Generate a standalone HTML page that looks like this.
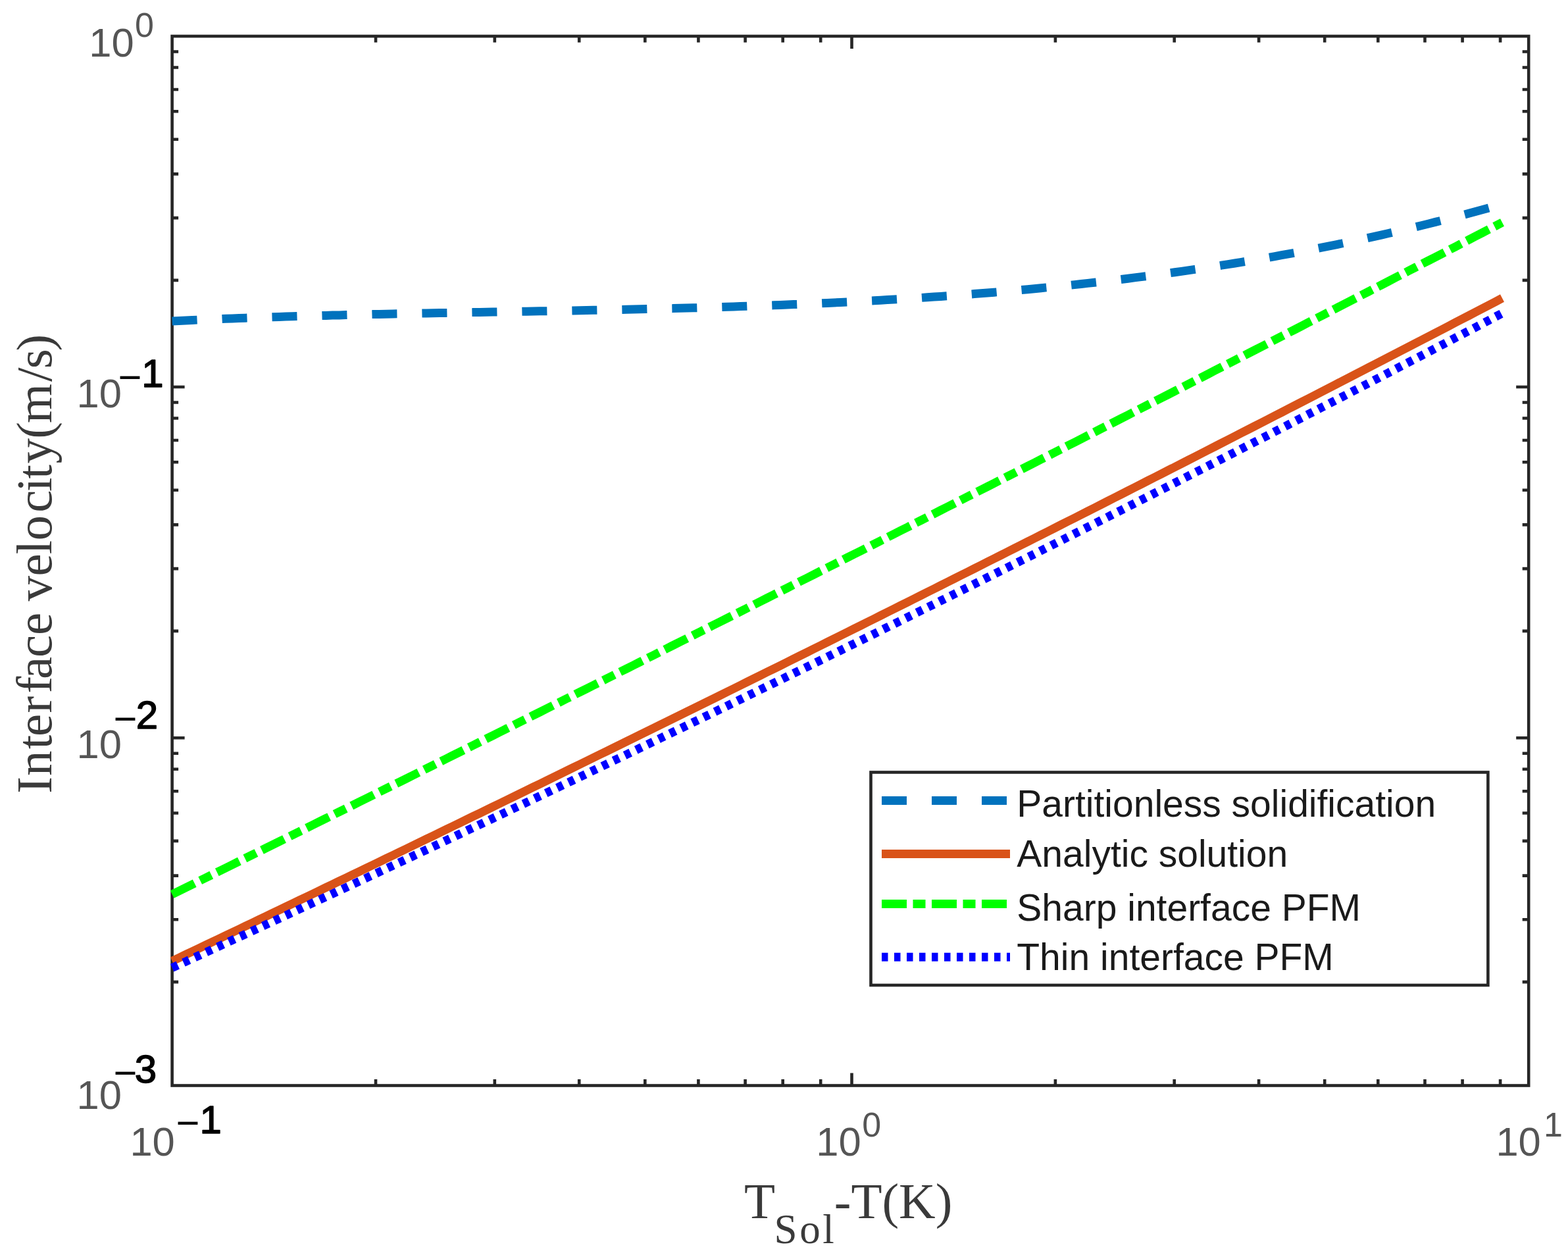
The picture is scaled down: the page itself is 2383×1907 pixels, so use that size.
<!DOCTYPE html>
<html><head><meta charset="utf-8"><title>Interface velocity plot</title>
<style>html,body{margin:0;padding:0;background:#fff;}svg{display:block;}</style>
</head><body>
<svg width="2383" height="1907" viewBox="0 0 2383 1907"><rect x="261.6" y="55.0" width="2061.6" height="1594.5" fill="none" stroke="#262626" stroke-width="4.6"/>
<path d="M571.0 1649.5v-9.5M571.0 55.0v9.5M751.8 1649.5v-9.5M751.8 55.0v9.5M880.2 1649.5v-9.5M880.2 55.0v9.5M980.3 1649.5v-9.5M980.3 55.0v9.5M1061.4 1649.5v-9.5M1061.4 55.0v9.5M1132.6 1649.5v-9.5M1132.6 55.0v9.5M1189.7 1649.5v-9.5M1189.7 55.0v9.5M1247.2 1649.5v-9.5M1247.2 55.0v9.5M1294.5 1649.5v-19.0M1294.5 55.0v19.0M1603.9 1649.5v-9.5M1603.9 55.0v9.5M1784.7 1649.5v-9.5M1784.7 55.0v9.5M1913.1 1649.5v-9.5M1913.1 55.0v9.5M2013.2 1649.5v-9.5M2013.2 55.0v9.5M2094.3 1649.5v-9.5M2094.3 55.0v9.5M2165.5 1649.5v-9.5M2165.5 55.0v9.5M2222.6 1649.5v-9.5M2222.6 55.0v9.5M2280.1 1649.5v-9.5M2280.1 55.0v9.5M261.6 78.5h9.5M2323.2 78.5h-9.5M261.6 102.5h9.5M2323.2 102.5h-9.5M261.6 136.0h9.5M2323.2 136.0h-9.5M261.6 169.3h9.5M2323.2 169.3h-9.5M261.6 211.7h9.5M2323.2 211.7h-9.5M261.6 264.4h9.5M2323.2 264.4h-9.5M261.6 331.1h9.5M2323.2 331.1h-9.5M261.6 425.9h9.5M2323.2 425.9h-9.5M261.6 588.0h19.0M2323.2 588.0h-19.0M261.6 611.5h9.5M2323.2 611.5h-9.5M261.6 635.5h9.5M2323.2 635.5h-9.5M261.6 669.0h9.5M2323.2 669.0h-9.5M261.6 702.3h9.5M2323.2 702.3h-9.5M261.6 744.7h9.5M2323.2 744.7h-9.5M261.6 797.4h9.5M2323.2 797.4h-9.5M261.6 864.1h9.5M2323.2 864.1h-9.5M261.6 958.9h9.5M2323.2 958.9h-9.5M261.6 1121.2h19.0M2323.2 1121.2h-19.0M261.6 1144.7h9.5M2323.2 1144.7h-9.5M261.6 1168.7h9.5M2323.2 1168.7h-9.5M261.6 1202.2h9.5M2323.2 1202.2h-9.5M261.6 1235.5h9.5M2323.2 1235.5h-9.5M261.6 1277.9h9.5M2323.2 1277.9h-9.5M261.6 1330.6h9.5M2323.2 1330.6h-9.5M261.6 1397.3h9.5M2323.2 1397.3h-9.5M261.6 1492.1h9.5M2323.2 1492.1h-9.5" stroke="#262626" stroke-width="4.6" fill="none"/>
<path d="M261.6 487.9 L271.8 487.4 L281.9 487.0 L292.1 486.5 L302.2 486.0 L312.4 485.6 L322.5 485.2 L332.7 484.8 L342.9 484.3 L353.0 484.0 L363.2 483.6 L373.3 483.2 L383.5 482.8 L393.7 482.5 L403.8 482.1 L414.0 481.8 L424.1 481.5 L434.3 481.1 L444.4 480.8 L454.6 480.5 L464.8 480.2 L474.9 479.9 L485.1 479.7 L495.2 479.4 L505.4 479.1 L515.5 478.9 L525.7 478.6 L535.9 478.3 L546.0 478.1 L556.2 477.9 L566.3 477.6 L576.5 477.4 L586.6 477.2 L596.8 477.0 L607.0 476.8 L617.1 476.6 L627.3 476.4 L637.4 476.2 L647.6 476.0 L657.8 475.8 L667.9 475.6 L678.1 475.4 L688.2 475.2 L698.4 475.0 L708.5 474.8 L718.7 474.6 L728.9 474.5 L739.0 474.3 L749.2 474.1 L759.3 473.9 L769.5 473.7 L779.6 473.6 L789.8 473.4 L800.0 473.2 L810.1 473.0 L820.3 472.8 L830.4 472.7 L840.6 472.5 L850.8 472.3 L860.9 472.1 L871.1 471.9 L881.2 471.7 L891.4 471.5 L901.5 471.3 L911.7 471.1 L921.9 470.9 L932.0 470.7 L942.2 470.5 L952.3 470.3 L962.5 470.0 L972.6 469.8 L982.8 469.6 L993.0 469.3 L1003.1 469.1 L1013.3 468.8 L1023.4 468.6 L1033.6 468.3 L1043.7 468.0 L1053.9 467.8 L1064.1 467.5 L1074.2 467.2 L1084.4 466.9 L1094.5 466.6 L1104.7 466.3 L1114.9 465.9 L1125.0 465.6 L1135.2 465.3 L1145.3 464.9 L1155.5 464.6 L1165.6 464.2 L1175.8 463.8 L1186.0 463.4 L1196.1 463.0 L1206.3 462.6 L1216.4 462.2 L1226.6 461.7 L1236.7 461.3 L1246.9 460.9 L1257.1 460.4 L1267.2 459.9 L1277.4 459.4 L1287.5 458.9 L1297.7 458.4 L1307.9 457.9 L1318.0 457.3 L1328.2 456.8 L1338.3 456.2 L1348.5 455.6 L1358.6 455.0 L1368.8 454.4 L1379.0 453.8 L1389.1 453.1 L1399.3 452.5 L1409.4 451.8 L1419.6 451.1 L1429.7 450.4 L1439.9 449.7 L1450.1 448.9 L1460.2 448.2 L1470.4 447.4 L1480.5 446.6 L1490.7 445.8 L1500.9 445.0 L1511.0 444.2 L1521.2 443.3 L1531.3 442.4 L1541.5 441.5 L1551.6 440.6 L1561.8 439.7 L1572.0 438.7 L1582.1 437.7 L1592.3 436.7 L1602.4 435.7 L1612.6 434.7 L1622.7 433.7 L1632.9 432.6 L1643.1 431.5 L1653.2 430.4 L1663.4 429.2 L1673.5 428.1 L1683.7 426.9 L1693.8 425.7 L1704.0 424.5 L1714.2 423.2 L1724.3 421.9 L1734.5 420.6 L1744.6 419.3 L1754.8 418.0 L1765.0 416.6 L1775.1 415.2 L1785.3 413.8 L1795.4 412.4 L1805.6 410.9 L1815.7 409.4 L1825.9 407.9 L1836.1 406.4 L1846.2 404.8 L1856.4 403.2 L1866.5 401.6 L1876.7 400.0 L1886.8 398.3 L1897.0 396.6 L1907.2 394.9 L1917.3 393.2 L1927.5 391.4 L1937.6 389.6 L1947.8 387.7 L1958.0 385.9 L1968.1 384.0 L1978.3 382.1 L1988.4 380.1 L1998.6 378.2 L2008.7 376.2 L2018.9 374.1 L2029.1 372.1 L2039.2 370.0 L2049.4 367.9 L2059.5 365.7 L2069.7 363.5 L2079.8 361.3 L2090.0 359.1 L2100.2 356.8 L2110.3 354.5 L2120.5 352.1 L2130.6 349.8 L2140.8 347.4 L2150.9 344.9 L2161.1 342.5 L2171.3 340.0 L2181.4 337.4 L2191.6 334.9 L2201.7 332.3 L2211.9 329.6 L2222.1 327.0 L2232.2 324.3 L2242.4 321.5 L2252.5 318.8 L2262.7 315.9 L2272.8 313.1 L2283.0 310.2" stroke="#0072BD" stroke-width="13" fill="none" stroke-dasharray="38 38"/>
<path d="M261.6 1460.4 L271.8 1455.6 L281.9 1450.7 L292.1 1445.9 L302.2 1441.1 L312.4 1436.2 L322.5 1431.4 L332.7 1426.5 L342.9 1421.7 L353.0 1416.9 L363.2 1412.0 L373.3 1407.1 L383.5 1402.3 L393.7 1397.4 L403.8 1392.6 L414.0 1387.7 L424.1 1382.8 L434.3 1378.0 L444.4 1373.1 L454.6 1368.2 L464.8 1363.4 L474.9 1358.5 L485.1 1353.6 L495.2 1348.7 L505.4 1343.8 L515.5 1338.9 L525.7 1334.1 L535.9 1329.2 L546.0 1324.3 L556.2 1319.4 L566.3 1314.5 L576.5 1309.6 L586.6 1304.7 L596.8 1299.8 L607.0 1294.9 L617.1 1290.0 L627.3 1285.0 L637.4 1280.1 L647.6 1275.2 L657.8 1270.3 L667.9 1265.4 L678.1 1260.4 L688.2 1255.5 L698.4 1250.6 L708.5 1245.7 L718.7 1240.7 L728.9 1235.8 L739.0 1230.9 L749.2 1225.9 L759.3 1221.0 L769.5 1216.0 L779.6 1211.1 L789.8 1206.1 L800.0 1201.2 L810.1 1196.2 L820.3 1191.3 L830.4 1186.3 L840.6 1181.3 L850.8 1176.4 L860.9 1171.4 L871.1 1166.4 L881.2 1161.5 L891.4 1156.5 L901.5 1151.5 L911.7 1146.5 L921.9 1141.6 L932.0 1136.6 L942.2 1131.6 L952.3 1126.6 L962.5 1121.6 L972.6 1116.6 L982.8 1111.6 L993.0 1106.6 L1003.1 1101.6 L1013.3 1096.6 L1023.4 1091.6 L1033.6 1086.6 L1043.7 1081.6 L1053.9 1076.6 L1064.1 1071.6 L1074.2 1066.6 L1084.4 1061.6 L1094.5 1056.6 L1104.7 1051.5 L1114.9 1046.5 L1125.0 1041.5 L1135.2 1036.4 L1145.3 1031.4 L1155.5 1026.4 L1165.6 1021.3 L1175.8 1016.3 L1186.0 1011.3 L1196.1 1006.2 L1206.3 1001.2 L1216.4 996.1 L1226.6 991.1 L1236.7 986.0 L1246.9 981.0 L1257.1 975.9 L1267.2 970.9 L1277.4 965.8 L1287.5 960.7 L1297.7 955.7 L1307.9 950.6 L1318.0 945.5 L1328.2 940.5 L1338.3 935.4 L1348.5 930.3 L1358.6 925.2 L1368.8 920.1 L1379.0 915.1 L1389.1 910.0 L1399.3 904.9 L1409.4 899.8 L1419.6 894.7 L1429.7 889.6 L1439.9 884.5 L1450.1 879.4 L1460.2 874.3 L1470.4 869.2 L1480.5 864.1 L1490.7 859.0 L1500.9 853.8 L1511.0 848.7 L1521.2 843.6 L1531.3 838.5 L1541.5 833.4 L1551.6 828.2 L1561.8 823.1 L1572.0 818.0 L1582.1 812.9 L1592.3 807.7 L1602.4 802.6 L1612.6 797.4 L1622.7 792.3 L1632.9 787.2 L1643.1 782.0 L1653.2 776.9 L1663.4 771.7 L1673.5 766.6 L1683.7 761.4 L1693.8 756.3 L1704.0 751.1 L1714.2 745.9 L1724.3 740.8 L1734.5 735.6 L1744.6 730.4 L1754.8 725.3 L1765.0 720.1 L1775.1 714.9 L1785.3 709.7 L1795.4 704.6 L1805.6 699.4 L1815.7 694.2 L1825.9 689.0 L1836.1 683.8 L1846.2 678.6 L1856.4 673.4 L1866.5 668.2 L1876.7 663.0 L1886.8 657.8 L1897.0 652.6 L1907.2 647.4 L1917.3 642.2 L1927.5 637.0 L1937.6 631.8 L1947.8 626.6 L1958.0 621.3 L1968.1 616.1 L1978.3 610.9 L1988.4 605.7 L1998.6 600.4 L2008.7 595.2 L2018.9 590.0 L2029.1 584.7 L2039.2 579.5 L2049.4 574.3 L2059.5 569.0 L2069.7 563.8 L2079.8 558.5 L2090.0 553.3 L2100.2 548.0 L2110.3 542.8 L2120.5 537.5 L2130.6 532.3 L2140.8 527.0 L2150.9 521.7 L2161.1 516.5 L2171.3 511.2 L2181.4 505.9 L2191.6 500.7 L2201.7 495.4 L2211.9 490.1 L2222.1 484.8 L2232.2 479.6 L2242.4 474.3 L2252.5 469.0 L2262.7 463.7 L2272.8 458.4 L2283.0 453.1" stroke="#D95319" stroke-width="13" fill="none"/>
<path d="M261.6 1359.0 L271.8 1354.0 L281.9 1349.0 L292.1 1344.0 L302.2 1339.0 L312.4 1334.0 L322.5 1329.0 L332.7 1324.0 L342.9 1319.0 L353.0 1314.0 L363.2 1308.9 L373.3 1303.9 L383.5 1298.9 L393.7 1293.9 L403.8 1288.9 L414.0 1283.9 L424.1 1278.9 L434.3 1273.8 L444.4 1268.8 L454.6 1263.8 L464.8 1258.8 L474.9 1253.7 L485.1 1248.7 L495.2 1243.7 L505.4 1238.7 L515.5 1233.6 L525.7 1228.6 L535.9 1223.6 L546.0 1218.5 L556.2 1213.5 L566.3 1208.5 L576.5 1203.4 L586.6 1198.4 L596.8 1193.3 L607.0 1188.3 L617.1 1183.3 L627.3 1178.2 L637.4 1173.2 L647.6 1168.1 L657.8 1163.1 L667.9 1158.0 L678.1 1153.0 L688.2 1147.9 L698.4 1142.9 L708.5 1137.8 L718.7 1132.7 L728.9 1127.7 L739.0 1122.6 L749.2 1117.6 L759.3 1112.5 L769.5 1107.4 L779.6 1102.4 L789.8 1097.3 L800.0 1092.2 L810.1 1087.2 L820.3 1082.1 L830.4 1077.0 L840.6 1071.9 L850.8 1066.9 L860.9 1061.8 L871.1 1056.7 L881.2 1051.6 L891.4 1046.6 L901.5 1041.5 L911.7 1036.4 L921.9 1031.3 L932.0 1026.2 L942.2 1021.1 L952.3 1016.1 L962.5 1011.0 L972.6 1005.9 L982.8 1000.8 L993.0 995.7 L1003.1 990.6 L1013.3 985.5 L1023.4 980.4 L1033.6 975.3 L1043.7 970.2 L1053.9 965.1 L1064.1 960.0 L1074.2 954.9 L1084.4 949.8 L1094.5 944.7 L1104.7 939.6 L1114.9 934.5 L1125.0 929.4 L1135.2 924.3 L1145.3 919.1 L1155.5 914.0 L1165.6 908.9 L1175.8 903.8 L1186.0 898.7 L1196.1 893.6 L1206.3 888.4 L1216.4 883.3 L1226.6 878.2 L1236.7 873.1 L1246.9 867.9 L1257.1 862.8 L1267.2 857.7 L1277.4 852.6 L1287.5 847.4 L1297.7 842.3 L1307.9 837.2 L1318.0 832.0 L1328.2 826.9 L1338.3 821.7 L1348.5 816.6 L1358.6 811.5 L1368.8 806.3 L1379.0 801.2 L1389.1 796.0 L1399.3 790.9 L1409.4 785.7 L1419.6 780.6 L1429.7 775.4 L1439.9 770.3 L1450.1 765.1 L1460.2 760.0 L1470.4 754.8 L1480.5 749.7 L1490.7 744.5 L1500.9 739.4 L1511.0 734.2 L1521.2 729.0 L1531.3 723.9 L1541.5 718.7 L1551.6 713.5 L1561.8 708.4 L1572.0 703.2 L1582.1 698.0 L1592.3 692.9 L1602.4 687.7 L1612.6 682.5 L1622.7 677.3 L1632.9 672.2 L1643.1 667.0 L1653.2 661.8 L1663.4 656.6 L1673.5 651.4 L1683.7 646.3 L1693.8 641.1 L1704.0 635.9 L1714.2 630.7 L1724.3 625.5 L1734.5 620.3 L1744.6 615.1 L1754.8 609.9 L1765.0 604.7 L1775.1 599.6 L1785.3 594.4 L1795.4 589.2 L1805.6 584.0 L1815.7 578.8 L1825.9 573.6 L1836.1 568.4 L1846.2 563.1 L1856.4 557.9 L1866.5 552.7 L1876.7 547.5 L1886.8 542.3 L1897.0 537.1 L1907.2 531.9 L1917.3 526.7 L1927.5 521.5 L1937.6 516.2 L1947.8 511.0 L1958.0 505.8 L1968.1 500.6 L1978.3 495.4 L1988.4 490.1 L1998.6 484.9 L2008.7 479.7 L2018.9 474.5 L2029.1 469.2 L2039.2 464.0 L2049.4 458.8 L2059.5 453.5 L2069.7 448.3 L2079.8 443.1 L2090.0 437.8 L2100.2 432.6 L2110.3 427.4 L2120.5 422.1 L2130.6 416.9 L2140.8 411.6 L2150.9 406.4 L2161.1 401.1 L2171.3 395.9 L2181.4 390.7 L2191.6 385.4 L2201.7 380.2 L2211.9 374.9 L2222.1 369.6 L2232.2 364.4 L2242.4 359.1 L2252.5 353.9 L2262.7 348.6 L2272.8 343.4 L2283.0 338.1" stroke="#00FF00" stroke-width="13" fill="none" stroke-dasharray="38 9.5 19 9.5"/>
<path d="M261.6 1470.6 L271.8 1465.9 L281.9 1461.3 L292.1 1456.6 L302.2 1452.0 L312.4 1447.3 L322.5 1442.6 L332.7 1438.0 L342.9 1433.3 L353.0 1428.6 L363.2 1423.9 L373.3 1419.3 L383.5 1414.6 L393.7 1409.9 L403.8 1405.2 L414.0 1400.5 L424.1 1395.8 L434.3 1391.1 L444.4 1386.4 L454.6 1381.7 L464.8 1376.9 L474.9 1372.2 L485.1 1367.5 L495.2 1362.8 L505.4 1358.1 L515.5 1353.3 L525.7 1348.6 L535.9 1343.8 L546.0 1339.1 L556.2 1334.4 L566.3 1329.6 L576.5 1324.9 L586.6 1320.1 L596.8 1315.3 L607.0 1310.6 L617.1 1305.8 L627.3 1301.0 L637.4 1296.3 L647.6 1291.5 L657.8 1286.7 L667.9 1281.9 L678.1 1277.1 L688.2 1272.3 L698.4 1267.5 L708.5 1262.7 L718.7 1257.9 L728.9 1253.1 L739.0 1248.3 L749.2 1243.5 L759.3 1238.7 L769.5 1233.9 L779.6 1229.0 L789.8 1224.2 L800.0 1219.4 L810.1 1214.5 L820.3 1209.7 L830.4 1204.9 L840.6 1200.0 L850.8 1195.2 L860.9 1190.3 L871.1 1185.5 L881.2 1180.6 L891.4 1175.7 L901.5 1170.9 L911.7 1166.0 L921.9 1161.1 L932.0 1156.2 L942.2 1151.4 L952.3 1146.5 L962.5 1141.6 L972.6 1136.7 L982.8 1131.8 L993.0 1126.9 L1003.1 1122.0 L1013.3 1117.1 L1023.4 1112.2 L1033.6 1107.3 L1043.7 1102.4 L1053.9 1097.4 L1064.1 1092.5 L1074.2 1087.6 L1084.4 1082.7 L1094.5 1077.7 L1104.7 1072.8 L1114.9 1067.8 L1125.0 1062.9 L1135.2 1057.9 L1145.3 1053.0 L1155.5 1048.0 L1165.6 1043.1 L1175.8 1038.1 L1186.0 1033.2 L1196.1 1028.2 L1206.3 1023.2 L1216.4 1018.2 L1226.6 1013.3 L1236.7 1008.3 L1246.9 1003.3 L1257.1 998.3 L1267.2 993.3 L1277.4 988.3 L1287.5 983.3 L1297.7 978.3 L1307.9 973.3 L1318.0 968.3 L1328.2 963.3 L1338.3 958.2 L1348.5 953.2 L1358.6 948.2 L1368.8 943.2 L1379.0 938.1 L1389.1 933.1 L1399.3 928.0 L1409.4 923.0 L1419.6 918.0 L1429.7 912.9 L1439.9 907.9 L1450.1 902.8 L1460.2 897.7 L1470.4 892.7 L1480.5 887.6 L1490.7 882.5 L1500.9 877.4 L1511.0 872.4 L1521.2 867.3 L1531.3 862.2 L1541.5 857.1 L1551.6 852.0 L1561.8 846.9 L1572.0 841.8 L1582.1 836.7 L1592.3 831.6 L1602.4 826.5 L1612.6 821.4 L1622.7 816.3 L1632.9 811.1 L1643.1 806.0 L1653.2 800.9 L1663.4 795.8 L1673.5 790.6 L1683.7 785.5 L1693.8 780.3 L1704.0 775.2 L1714.2 770.0 L1724.3 764.9 L1734.5 759.7 L1744.6 754.6 L1754.8 749.4 L1765.0 744.2 L1775.1 739.1 L1785.3 733.9 L1795.4 728.7 L1805.6 723.5 L1815.7 718.3 L1825.9 713.2 L1836.1 708.0 L1846.2 702.8 L1856.4 697.6 L1866.5 692.4 L1876.7 687.2 L1886.8 681.9 L1897.0 676.7 L1907.2 671.5 L1917.3 666.3 L1927.5 661.1 L1937.6 655.8 L1947.8 650.6 L1958.0 645.4 L1968.1 640.1 L1978.3 634.9 L1988.4 629.6 L1998.6 624.4 L2008.7 619.1 L2018.9 613.9 L2029.1 608.6 L2039.2 603.4 L2049.4 598.1 L2059.5 592.8 L2069.7 587.6 L2079.8 582.3 L2090.0 577.0 L2100.2 571.7 L2110.3 566.4 L2120.5 561.1 L2130.6 555.8 L2140.8 550.5 L2150.9 545.2 L2161.1 539.9 L2171.3 534.6 L2181.4 529.3 L2191.6 524.0 L2201.7 518.7 L2211.9 513.3 L2222.1 508.0 L2232.2 502.7 L2242.4 497.4 L2252.5 492.0 L2262.7 486.7 L2272.8 481.3 L2283.0 476.0" stroke="#0000FF" stroke-width="13" fill="none" stroke-dasharray="9.5 9.5"/>
<text x="135.3" y="85.7" font-family="'Liberation Sans', Arial, sans-serif" font-size="61.5" fill="#555555" font-weight="normal" >10</text>
<text x="205.0" y="56.0" font-family="'Liberation Sans', Arial, sans-serif" font-size="52" fill="#555555" font-weight="normal" >0</text>
<text x="116.6" y="618.5" font-family="'Liberation Sans', Arial, sans-serif" font-size="61.5" fill="#555555" font-weight="normal" >10</text>
<text x="179.5" y="594.2" font-family="'Liberation Sans', Arial, sans-serif" font-size="61.5" fill="#000" font-weight="normal" >−</text>
<text x="215.3" y="588.3" font-family="'Liberation Sans', Arial, sans-serif" font-size="60" fill="#000" font-weight="normal" stroke="#000" stroke-width="1.5" stroke-linejoin="round">1</text>
<text x="116.6" y="1151.8" font-family="'Liberation Sans', Arial, sans-serif" font-size="61.5" fill="#555555" font-weight="normal" >10</text>
<text x="172.4" y="1112.9" font-family="'Liberation Sans', Arial, sans-serif" font-size="61.5" fill="#000" font-weight="normal" >−</text>
<text x="206.8" y="1107.3" font-family="'Liberation Sans', Arial, sans-serif" font-size="60" fill="#000" font-weight="normal" stroke="#000" stroke-width="1.5" stroke-linejoin="round">2</text>
<text x="116.6" y="1684.7" font-family="'Liberation Sans', Arial, sans-serif" font-size="61.5" fill="#555555" font-weight="normal" >10</text>
<text x="172.4" y="1650.9" font-family="'Liberation Sans', Arial, sans-serif" font-size="61.5" fill="#000" font-weight="normal" >−</text>
<text x="204.8" y="1644.5" font-family="'Liberation Sans', Arial, sans-serif" font-size="60" fill="#000" font-weight="normal" stroke="#000" stroke-width="1.5" stroke-linejoin="round">3</text>
<text x="197.4" y="1756.4" font-family="'Liberation Sans', Arial, sans-serif" font-size="61.5" fill="#555555" font-weight="normal" >10</text>
<text x="267.4" y="1727.0" font-family="'Liberation Sans', Arial, sans-serif" font-size="61.5" fill="#000" font-weight="normal" >−</text>
<text x="303.6" y="1721.5" font-family="'Liberation Sans', Arial, sans-serif" font-size="60" fill="#000" font-weight="normal" stroke="#000" stroke-width="1.5" stroke-linejoin="round">1</text>
<text x="1240.3" y="1756.4" font-family="'Liberation Sans', Arial, sans-serif" font-size="61.5" fill="#555555" font-weight="normal" >10</text>
<text x="1310.3" y="1726.5" font-family="'Liberation Sans', Arial, sans-serif" font-size="52" fill="#555555" font-weight="normal" >0</text>
<text x="2273.4" y="1756.4" font-family="'Liberation Sans', Arial, sans-serif" font-size="61.5" fill="#555555" font-weight="normal" >10</text>
<text x="2346.0" y="1726.5" font-family="'Liberation Sans', Arial, sans-serif" font-size="52" fill="#555555" font-weight="normal" >1</text>
<text transform="translate(78,1207.5) rotate(-90)" x="1.8 28.4 69.3 88.5 123.9 154.0 175.6 208.5 242.6 276.9 294.0 332.1 365.3 386.0 428.7 460.5 479.9 502.9 540.8 564.6 627.6 647.3 674.0" y="0" font-family="'Liberation Serif', 'Times New Roman', serif" font-size="77" fill="#3a3a3a">Interface velocity(m/s)</text>
<text x="1131.0" y="1850.5" font-family="'Liberation Serif', 'Times New Roman', serif" font-size="77" fill="#3a3a3a" font-weight="normal" >T</text>
<text x="1176.6" y="1888.5" font-family="'Liberation Serif', 'Times New Roman', serif" font-size="63" fill="#3a3a3a" font-weight="normal" letter-spacing="3.5">Sol</text>
<text x="1267.8" y="1850.5" font-family="'Liberation Serif', 'Times New Roman', serif" font-size="77" fill="#3a3a3a" font-weight="normal" >-T(K)</text>
<rect x="1323.5" y="1173.5" width="937.9" height="323.5" fill="#fff" stroke="#262626" stroke-width="4.6"/>
<path d="M1340 1216.4H1535" stroke="#0072BD" stroke-width="13" fill="none" stroke-dasharray="38 38"/>
<text x="1545.3" y="1241.2" font-family="'Liberation Sans', Arial, sans-serif" font-size="57" fill="#1a1a1a" font-weight="normal" >Partitionless solidification</text>
<path d="M1340 1297.4H1535" stroke="#D95319" stroke-width="13" fill="none"/>
<text x="1545.3" y="1317.2" font-family="'Liberation Sans', Arial, sans-serif" font-size="57" fill="#1a1a1a" font-weight="normal" >Analytic solution</text>
<path d="M1340 1373.4H1535" stroke="#00FF00" stroke-width="13" fill="none" stroke-dasharray="38 9.5 19 9.5"/>
<text x="1545.3" y="1399.0" font-family="'Liberation Sans', Arial, sans-serif" font-size="57" fill="#1a1a1a" font-weight="normal" >Sharp interface PFM</text>
<path d="M1340 1454.3H1535" stroke="#0000FF" stroke-width="13" fill="none" stroke-dasharray="9.5 9.5"/>
<text x="1545.3" y="1474.2" font-family="'Liberation Sans', Arial, sans-serif" font-size="57" fill="#1a1a1a" font-weight="normal" >Thin interface PFM</text></svg>
</body></html>
